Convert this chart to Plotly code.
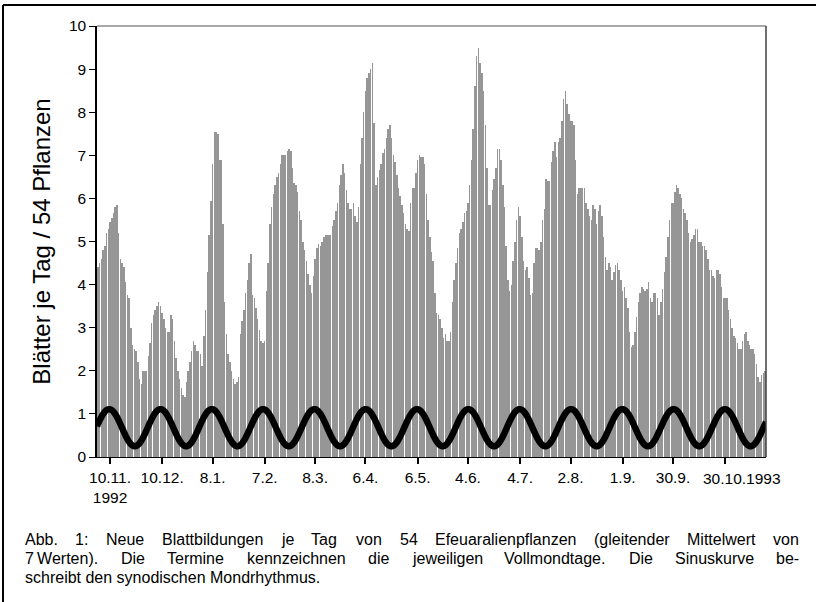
import plotly.graph_objects as go
import pandas as pd
import numpy as np

# ---------------- data ----------------
start_date = "1992-11-03"
leaves_per_day = [
    4.4, 4.5, 4.6, 4.8, 4.9, 5.2, 5.3, 5.45, 5.55, 5.65,
    5.8, 5.85, 5.2, 4.6, 4.5, 4.4, 4.05, 3.75, 3.7, 3.0,
    2.6, 2.5, 2.45, 2.2, 1.8, 1.7, 2.0, 2.0, 2.0, 2.35,
    2.65, 3.1, 3.3, 3.4, 3.5, 3.6, 3.5, 3.35, 3.2, 3.0,
    2.9, 2.9, 3.3, 3.2, 2.7, 2.3, 2.0, 1.8, 1.6, 1.45,
    1.4, 1.75, 2.0, 2.2, 2.45, 2.7, 2.6, 2.45, 2.45, 2.4,
    2.1, 2.8, 3.4, 4.3, 5.15, 5.95, 6.8, 7.55, 7.55, 7.5,
    6.9, 6.9, 5.4, 3.6, 2.85, 2.4, 2.2, 2.0, 1.8, 1.7,
    1.75, 1.85, 2.85, 3.15, 3.4, 3.8, 4.1, 4.5, 4.7, 3.75,
    3.7, 3.45, 3.2, 2.95, 2.7, 2.65, 2.7, 3.85, 4.5, 5.4,
    5.8, 6.1, 6.3, 6.5, 6.6, 6.8, 7.0, 7.0, 7.0, 7.1,
    7.15, 7.1, 6.7, 6.35, 6.3, 6.15, 5.7, 5.5, 5.0, 4.8,
    4.55, 4.25, 4.0, 3.8, 4.2, 4.6, 4.85, 4.95, 4.9, 5.0,
    5.1, 5.15, 5.15, 5.15, 5.15, 5.35, 5.5, 5.7, 5.9, 6.3,
    6.55, 6.8, 6.6, 6.2, 5.9, 5.75, 5.75, 5.9, 5.6, 5.45,
    5.8, 6.8, 7.4, 8.0, 8.5, 8.8, 8.9, 9.0, 9.15, 7.75,
    6.3, 6.5, 6.65, 6.8, 7.05, 7.15, 7.4, 7.6, 7.7, 7.4,
    7.0, 6.85, 6.55, 6.25, 6.05, 5.85, 5.65, 5.4, 5.3, 5.25,
    5.9, 6.25, 6.25, 6.6, 6.9, 7.0, 6.95, 6.95, 6.8, 6.1,
    5.5, 5.1, 4.75, 4.55, 3.8, 3.35, 3.3, 3.2, 3.0, 2.75,
    2.85, 2.7, 2.7, 2.9, 3.6, 4.1, 4.5, 4.85, 5.2, 5.3,
    5.45, 5.65, 5.7, 5.9, 6.3, 6.9, 7.6, 8.6, 9.3, 9.5,
    9.15, 8.9, 8.5, 7.7, 6.7, 5.85, 5.85, 6.2, 6.45, 6.7,
    7.15, 7.15, 6.9, 6.3, 5.8, 4.9, 4.1, 3.85, 4.0, 4.55,
    5.0, 5.5, 5.8, 5.6, 5.1, 4.55, 4.35, 4.4, 4.15, 3.75,
    3.8, 4.5, 4.85, 4.85, 4.8, 5.0, 5.5, 5.75, 6.45, 6.4,
    6.4, 6.85, 7.1, 7.3, 6.95, 7.3, 7.4, 7.8, 8.3, 8.5,
    8.2, 7.95, 7.8, 7.8, 7.7, 6.9, 6.1, 6.25, 6.25, 6.25,
    6.25, 5.9, 5.75, 5.6, 5.5, 5.85, 5.75, 5.4, 5.7, 5.85,
    5.6, 5.1, 4.65, 4.35, 4.5, 4.4, 4.1, 4.3, 4.45, 4.5,
    4.35, 4.1, 3.85, 3.95, 3.7, 3.45, 2.9, 2.55, 2.6, 2.9,
    3.25, 3.6, 3.8, 3.95, 3.9, 3.85, 3.9, 4.05, 3.7, 3.6,
    3.8, 3.8, 3.7, 3.3, 3.6, 3.9, 4.3, 4.65, 5.1, 5.5,
    5.9, 5.9, 6.15, 6.3, 6.25, 6.1, 6.0, 5.75, 5.65, 5.5,
    5.2, 5.0, 5.05, 5.15, 5.3, 5.3, 5.0, 5.0, 4.9, 4.9,
    4.8, 4.6, 4.35, 4.35, 4.2, 4.15, 4.35, 4.35, 4.25, 3.95,
    3.7, 3.7, 3.7, 3.4, 3.2, 3.0, 2.8, 2.75, 2.65, 2.5,
    2.5, 2.7, 2.85, 2.9, 2.7, 2.6, 2.5, 2.5, 2.4, 2.15,
    1.85, 1.75, 1.9, 1.95, 2.0,
]

full_moon_dates = ["1992-11-10", "1992-12-10", "1993-01-08", "1993-02-07",
                   "1993-03-08", "1993-04-06", "1993-05-06", "1993-06-04",
                   "1993-07-04", "1993-08-02", "1993-09-01", "1993-09-30",
                   "1993-10-30"]
full_moon_labels = ["10.11.<br>1992", "10.12.", "8.1.", "7.2.", "8.3.", "6.4.",
                    "6.5.", "4.6.", "4.7.", "2.8.", "1.9.", "30.9.", ""]
last_label = "30.10.1993"

# synodic sine curve parameters
synodic_period_days = 29.53
sine_max = 1.11
sine_min = 0.25
sine_peak_offset_days = -0.5   # peak relative to full-moon date (noon)

y_title = "Blätter je Tag / 54 Pflanzen"
caption_lines = [
    ["Abb.", "1:", "Neue", "Blattbildungen", "je", "Tag", "von", "54",
     "Efeuaralienpflanzen", "(gleitender", "Mittelwert", "von"],
    ["7\u2009Werten).", "Die", "Termine", "kennzeichnen", "die", "jeweiligen",
     "Vollmondtage.", "Die", "Sinuskurve", "be-"],
    ["schreibt den synodischen Mondrhythmus."],
]
caption_justified = [True, True, False]

# ---------------- build ----------------
dates = pd.date_range(start_date, periods=len(leaves_per_day), freq="D") + pd.Timedelta(hours=12)
fm = pd.to_datetime(full_moon_dates) + pd.Timedelta(hours=12)

t0 = dates[0] - pd.Timedelta(hours=12)
t1 = dates[-1] + pd.Timedelta(hours=12)
sine_t = pd.date_range(t0, t1, freq="3h")
days_from_fm = (sine_t - (fm[0] + pd.Timedelta(days=sine_peak_offset_days))) / pd.Timedelta(days=1)
mid = (sine_max + sine_min) / 2
amp = (sine_max - sine_min) / 2
sine_y = mid + amp * np.cos(2 * np.pi * np.asarray(days_from_fm) / synodic_period_days)

FONT = "Arial, Liberation Sans, sans-serif"

# Arial advance widths (1/1000 em) for justification of the caption
AW = {" ": 278, "\u2009": 200, "(": 333, ")": 333, ".": 278, ":": 278, "-": 333, "/": 278}
AW.update({d: 556 for d in "0123456789"})
AW.update(dict(A=667, B=667, D=722, E=667, M=833, N=722, S=667, T=611, V=667, W=944))
AW.update(dict(a=556, b=556, c=500, d=556, e=556, f=278, g=556, h=556, i=222, j=222,
               k=500, l=222, m=833, n=556, o=556, p=556, r=333, s=500, t=278, u=556,
               v=500, w=722, y=500, z=500))


def text_w(s, size):
    return sum(AW.get(ch, 556) for ch in s) * size / 1000.0


DAY_MS = 86400000
fig = go.Figure()
fig.add_trace(go.Bar(x=dates, y=leaves_per_day, width=0.87 * DAY_MS,
                     marker=dict(color="rgba(150,150,150,0.999)", line=dict(width=0)),
                     hoverinfo="skip"))
fig.add_trace(go.Scatter(x=sine_t, y=sine_y, mode="lines",
                         line=dict(color="black", width=6.5, shape="spline"), hoverinfo="skip"))

fig.update_layout(
    width=816, height=602,
    margin=dict(l=97, r=50, t=26, b=145),
    paper_bgcolor="white", plot_bgcolor="white",
    showlegend=False, bargap=0,
    font=dict(family=FONT, size=15, color="black"),
    xaxis=dict(type="date", range=[t0, t1], tickvals=fm, ticktext=full_moon_labels,
               ticks="outside", ticklen=6, tickwidth=2, tickcolor="black",
               showline=True, linecolor="black", linewidth=1, showgrid=False,
               zeroline=False, tickfont=dict(size=15.5), tickangle=0),
    yaxis=dict(range=[0, 10], dtick=1, ticks="outside", ticklen=6, tickwidth=1,
               tickcolor="black", showline=True, linecolor="black", linewidth=1.5,
               showgrid=False, zeroline=False, tickfont=dict(size=15.5),
               title=dict(text=y_title, font=dict(size=24), standoff=12)),
)

# plot-area frame (top grey, right dark)
fig.add_shape(type="line", xref="paper", yref="paper", x0=0, x1=1, y0=1, y1=1,
              line=dict(color="#8c8c8c", width=1.5))
fig.add_shape(type="line", xref="paper", yref="paper", x0=1, x1=1, y0=0, y1=1,
              line=dict(color="#404040", width=1.5))

PW, PH, PL, PB = 669, 431, 97, 457
px = lambda v: (v - PL) / PW
py = lambda v: (PB - v) / PH

# outer figure frame (top and left visible)
fig.add_shape(type="line", xref="paper", yref="paper", x0=px(3), x1=px(830), y0=py(5), y1=py(5),
              line=dict(color="black", width=2))
fig.add_shape(type="line", xref="paper", yref="paper", x0=px(3), x1=px(3), y0=py(5), y1=py(620),
              line=dict(color="black", width=2))

# last tick label (offset as in original)
fig.add_annotation(x=fm[-1], y=py(478), xref="x", yref="paper", text=last_label,
                   showarrow=False, xanchor="left", yanchor="middle", xshift=-24,
                   font=dict(size=15.5))

# justified caption
CAP_SIZE = 16
cap_left, cap_right = 26, 800
for i, (words, just) in enumerate(zip(caption_lines, caption_justified)):
    yline = py(539 + 19 * i)
    if just and len(words) > 1:
        widths = [text_w(w, CAP_SIZE) for w in words]
        gap = (cap_right - cap_left - sum(widths)) / (len(words) - 1)
        xpos = cap_left
        for w, wd in zip(words, widths):
            fig.add_annotation(x=px(xpos - 1), y=yline, xref="paper", yref="paper", text=w,
                               showarrow=False, xanchor="left", yanchor="middle",
                               borderpad=0, borderwidth=0, font=dict(size=CAP_SIZE))
            xpos += wd + gap
    else:
        fig.add_annotation(x=px(cap_left - 1), y=yline, xref="paper", yref="paper",
                           text=" ".join(words), showarrow=False, xanchor="left",
                           yanchor="middle", borderpad=0, borderwidth=0,
                           font=dict(size=CAP_SIZE))

fig.write_html("out.html", config={"displayModeBar": False},
               post_script="document.body.style.margin='0';")
